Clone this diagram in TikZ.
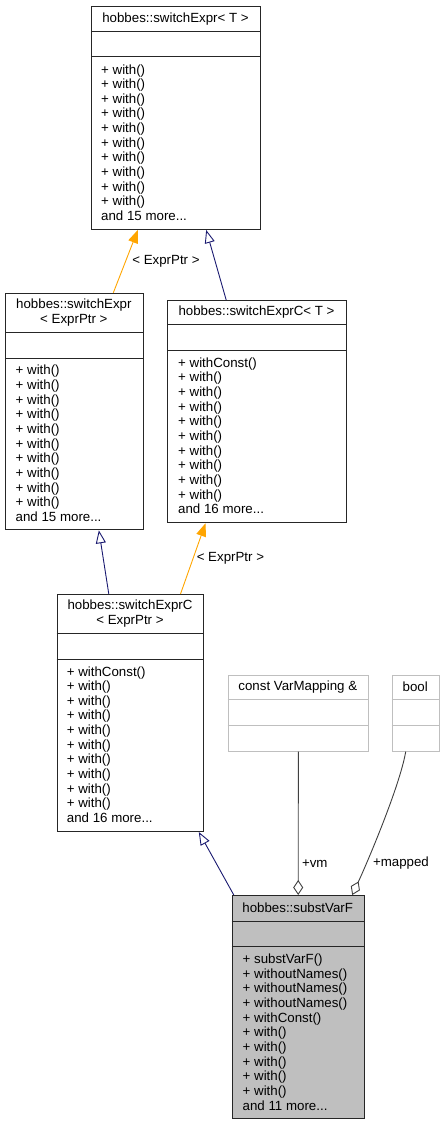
\documentclass[tikz,border=0pt]{standalone}
\usepackage{fontspec}
\setmainfont{Liberation Sans}
\usepackage{tikz}
\usetikzlibrary{arrows.meta}

\definecolor{inhblue}{HTML}{191970}
\definecolor{tmplorange}{HTML}{FFA500}
\definecolor{usegray}{HTML}{404040}
\definecolor{boxgray}{HTML}{BFBFBF}

\tikzset{
  cls/.style={draw=black!85, line width=1pt, fill=white, anchor=north west, inner sep=0pt},
  clsgray/.style={cls, draw=boxgray},
  sepline/.style={draw=black!85, line width=1pt},
  septhin/.style={draw=boxgray, line width=1pt},
  title/.style={font=\fontsize{13.3}{14.65}\selectfont, align=center, inner sep=0pt},
  members/.style={font=\fontsize{13.3}{14.65}\selectfont, align=left, anchor=west, inner sep=0pt},
  inherit/.style={draw=inhblue, line width=0.9pt, -{Triangle[open, length=13pt, width=10pt]}},
  tmpl/.style={draw=tmplorange, line width=0.9pt, -{Triangle[length=13pt, width=10pt]}},
  member/.style={draw=usegray, line width=0.9pt, -{Diamond[open, length=15pt, width=10pt]}},
  lbl/.style={font=\fontsize{13.3}{14.65}\selectfont}
}

\begin{document}
\begin{tikzpicture}[x=1pt, y=-1pt]
    \useasboundingbox (0,0) rectangle (444,1124);
    % hobbes::switchExpr< T >
    \node[cls, minimum width=169, minimum height=223] (se) at (91,6) {};
    \draw[sepline] (91,32) -- (260,32);
    \draw[sepline] (91,57) -- (260,57);
    \node[title] (set) at (175.5,19) {hobbes::switchExpr< T >};
    \node[members] (sem) at (101,142.5) {+ with()\\+ with()\\+ with()\\+ with()\\+ with()\\+ with()\\+ with()\\+ with()\\+ with()\\+ with()\\and 15 more...};
    % hobbes::switchExpr< ExprPtr >
    \node[cls, minimum width=137.7, minimum height=236.6] (sep) at (5,292.7) {};
    \draw[sepline] (5,332.3) -- (142.7,332.3);
    \draw[sepline] (5,358.3) -- (142.7,358.3);
    \node[title] (sept) at (73.85,312.3) {hobbes::switchExpr\\< ExprPtr >};
    \node[members] (sepm) at (15.5,443.3) {+ with()\\+ with()\\+ with()\\+ with()\\+ with()\\+ with()\\+ with()\\+ with()\\+ with()\\+ with()\\and 15 more...};
    % hobbes::switchExprC< T >
    \node[cls, minimum width=178.4, minimum height=222.3] (sc) at (167.3,300) {};
    \draw[sepline] (167.3,324.3) -- (345.7,324.3);
    \draw[sepline] (167.3,350.3) -- (345.7,350.3);
    \node[title] (sct) at (256.5,312.2) {hobbes::switchExprC< T >};
    \node[members] (scm) at (178,435.8) {+ withConst()\\+ with()\\+ with()\\+ with()\\+ with()\\+ with()\\+ with()\\+ with()\\+ with()\\+ with()\\and 16 more...};
    % hobbes::switchExprC< ExprPtr >
    \node[cls, minimum width=146.6, minimum height=237] (scp) at (56.7,594) {};
    \draw[sepline] (56.7,633.3) -- (203.3,633.3);
    \draw[sepline] (56.7,659.3) -- (203.3,659.3);
    \node[title] (scpt) at (130,613.4) {hobbes::switchExprC\\< ExprPtr >};
    \node[members] (scpm) at (66.7,744.5) {+ withConst()\\+ with()\\+ with()\\+ with()\\+ with()\\+ with()\\+ with()\\+ with()\\+ with()\\+ with()\\and 16 more...};
    % const VarMapping &
    \node[clsgray, minimum width=140.3, minimum height=76] (vm) at (227.7,674.7) {};
    \draw[septhin] (227.7,699.3) -- (368,699.3);
    \draw[septhin] (227.7,725) -- (368,725);
    \node[title] (vmt) at (297.8,687) {const VarMapping \&};
    % bool
    \node[clsgray, minimum width=47, minimum height=76] (bl) at (391.7,674.7) {};
    \draw[septhin] (391.7,699.3) -- (438.7,699.3);
    \draw[septhin] (391.7,725) -- (438.7,725);
    \node[title] (blt) at (415.2,687) {bool};
    % hobbes::substVarF
    \node[cls, fill=boxgray, minimum width=132, minimum height=222.7] (sv) at (231.7,895) {};
    \draw[sepline] (231.7,921) -- (363.7,921);
    \draw[sepline] (231.7,946) -- (363.7,946);
    \node[title] (svt) at (297.7,907.5) {hobbes::substVarF};
    \node[members] (svm) at (242.5,1032) {+ substVarF()\\+ withoutNames()\\+ withoutNames()\\+ withoutNames()\\+ withConst()\\+ with()\\+ with()\\+ with()\\+ with()\\+ with()\\and 11 more...};
    % connectors
    \draw [tmpl] ([xshift=39]sep.north) -- node [lbl,right,midway,xshift=3] {< ExprPtr >} ([xshift=-38.2]se.south);
    \draw [inherit] ([xshift=-30.8]sc.north) -- ([xshift=30.2]se.south);
    \draw [inherit] ([xshift=-21.7]scp.north) -- ([xshift=24.5]sep.south);
    \draw [tmpl] ([xshift=50]scp.north) -- node [lbl,right,midway] {< ExprPtr >} ([xshift=-51.5]sc.south);
    \draw [inherit] ([xshift=-64.4]sv.north) -- ([xshift=68.3]scp.south);
    \draw [member] (vm.south) -- node [lbl,right,pos=0.78] {+vm} (sv.north);
    \draw [member] ([xshift=-10]bl.south) .. controls +(-6,35) and +(14,-30) .. node [lbl,right,pos=0.74,xshift=3] {+mapped} ([xshift=54]sv.north);
\end{tikzpicture}
\end{document}
